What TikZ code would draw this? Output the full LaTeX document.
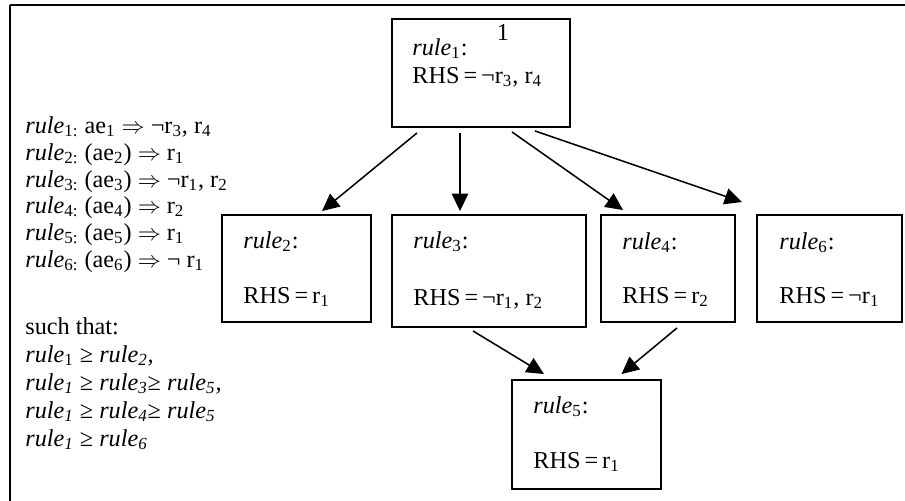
\documentclass[tikz,border=0pt]{standalone}
\usepackage{amsmath,amssymb}
\usepackage{fontspec}
\setmainfont{Liberation Serif}
\usepackage{tikz}
\usetikzlibrary{arrows.meta,calc,fit,positioning}

\newcommand{\rl}[1]{\textit{rule}\textsubscript{#1}}
\newcommand{\sub}[1]{\textsubscript{#1}}
\tikzset{rulebox/.style={draw,line width=1pt,inner sep=0pt},
txt/.style={anchor=base west,inner sep=0pt,font=\fontsize{12.6}{14}\selectfont},
arr/.style={-{Triangle[length=9pt,width=8.5pt]},line width=0.8pt}}

\begin{document}
\begin{tikzpicture}[x=0.52pt,y=-0.52pt]
\useasboundingbox (0,0) rectangle (905,501);
\draw[line width=1pt] (10,5) -- (905,5);
\draw[line width=1pt] (10,5) -- (10,501);
\node[rulebox,fit={(392,19) (570,127)}] (r1) {};
\node[rulebox,fit={(222,215) (371,322)}] (r2) {};
\node[rulebox,fit={(392,215) (586,327)}] (r3) {};
\node[rulebox,fit={(601,215) (735,322)}] (r4) {};
\node[rulebox,fit={(757,215) (902,322)}] (r6) {};
\node[rulebox,fit={(512,380) (661,489)}] (r5) {};
\node[txt,anchor=base] (r1n) at (503,40) {1};
\node[txt] (r1a) at (412,55) {\rl{1}:};
\node[txt] (r1b) at (412,83) {RHS\,=\,¬r\sub{3}, r\sub{4}};
\node[txt] (r2a) at (243,248) {\rl{2}:};
\node[txt] (r2b) at (243,303) {RHS\,=\,r\sub{1}};
\node[txt] (r3a) at (413,248) {\rl{3}:};
\node[txt] (r3b) at (413,305) {RHS\,=\,¬r\sub{1}, r\sub{2}};
\node[txt] (r4a) at (622,249) {\rl{4}:};
\node[txt] (r4b) at (622,303) {RHS\,=\,r\sub{2}};
\node[txt] (r6a) at (779,249) {\rl{6}:};
\node[txt] (r6b) at (779,303) {RHS\,=\,¬r\sub{1}};
\node[txt] (r5a) at (533,413) {\rl{5}:};
\node[txt] (r5b) at (533,468) {RHS\,=\,r\sub{1}};
\node[txt] (def1) at (25,133) {\rl{1:} ae\sub{1} $\Rightarrow$ ¬r\sub{3}, r\sub{4}};
\node[txt] (def2) at (25,160) {\rl{2:} (ae\sub{2}) $\Rightarrow$ r\sub{1}};
\node[txt] (def3) at (25,187) {\rl{3:} (ae\sub{3}) $\Rightarrow$ ¬r\sub{1}, r\sub{2}};
\node[txt] (def4) at (25,213) {\rl{4:} (ae\sub{4}) $\Rightarrow$ r\sub{2}};
\node[txt] (def5) at (25,240) {\rl{5:} (ae\sub{5}) $\Rightarrow$ r\sub{1}};
\node[txt] (def6) at (25,267) {\rl{6:} (ae\sub{6}) $\Rightarrow$ ¬ r\sub{1}};
\node[txt] (such) at (25,334) {such that:};
\node[txt] (ord1) at (25,362) {\rl{1} ≥ \textit{rule\sub{2},}};
\node[txt] (ord2) at (25,390) {\textit{rule\sub{1}} ≥ \textit{rule\sub{3}}≥ \textit{rule\sub{5},}};
\node[txt] (ord3) at (25,418) {\textit{rule\sub{1}} ≥ \textit{rule\sub{4}}≥ \textit{rule\sub{5}}};
\node[txt] (ord4) at (25,446) {\textit{rule\sub{1}} ≥ \textit{rule\sub{6}}};
\draw[arr] ($(r1.south)+(-64,5)$) -- ($(r2.north)+(25.5,-3)$);
\draw[arr] ($(r1.south)+(-21,5)$) -- ($(r3.north)+(-29,-3)$);
\draw[arr] ($(r1.south)+(31,4)$) -- ($(r4.north)+(-45,-4)$);
\draw[arr] ($(r1.south)+(54,3)$) -- ($(r6.north west)+(-14,-12)$);
\draw[arr] ($(r3.south)+(-16,3)$) -- ($(r5.north)+(-42.5,-5)$);
\draw[arr] ($(r4.south)+(9,5)$) -- ($(r5.north)+(35,-5)$);
\end{tikzpicture}
\end{document}
